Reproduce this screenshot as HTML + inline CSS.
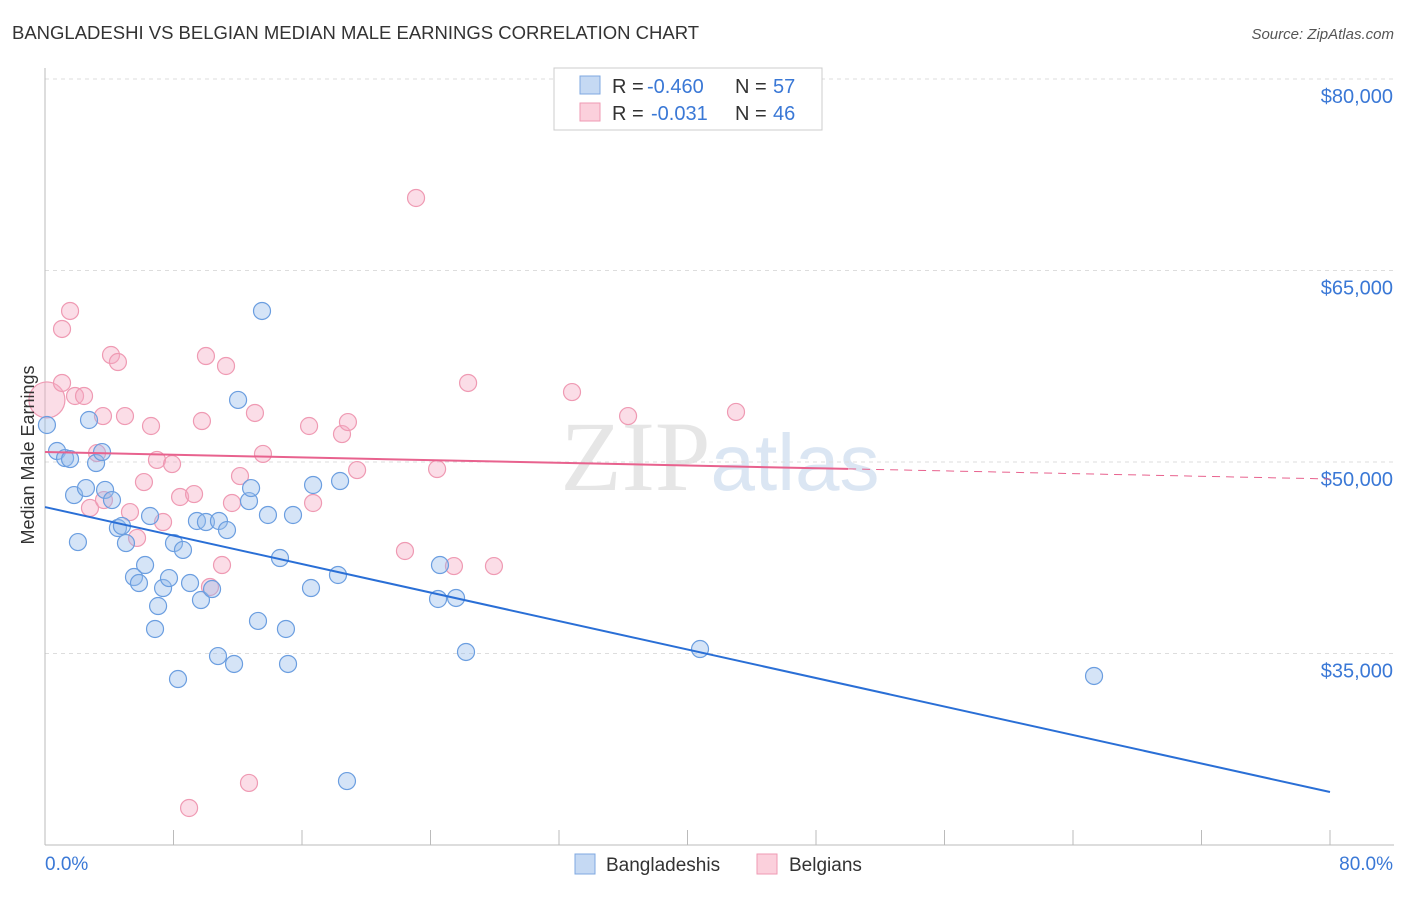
<!DOCTYPE html>
<html><head><meta charset="utf-8"><style>
body{margin:0;background:#fff;font-family:"Liberation Sans",sans-serif}
</style></head><body>
<svg width="1406" height="892" xmlns="http://www.w3.org/2000/svg" font-family="Liberation Sans, sans-serif">
<text x="12" y="39" font-size="18.5" fill="#333">BANGLADESHI VS BELGIAN MEDIAN MALE EARNINGS CORRELATION CHART</text>
<text x="1394" y="39" font-size="15" fill="#555" text-anchor="end" font-style="italic">Source: ZipAtlas.com</text>
<text x="720" y="490" font-size="100" fill="#e6e6e6" text-anchor="middle" font-family="Liberation Serif, serif">ZIP<tspan fill="#dbe6f3" font-family="Liberation Sans, sans-serif" font-size="80">atlas</tspan></text>
<g id="grid"></g><g id="axes"></g><g id="marks"></g>
<text transform="translate(34,455) rotate(-90)" font-size="18" fill="#333" text-anchor="middle">Median Male Earnings</text>
<rect x="554" y="68" width="268" height="62" fill="#fff" stroke="#ccc"/>
<rect x="580" y="76" width="20" height="18" fill="#c5d9f3" stroke="#7fa8e0"/>
<rect x="580" y="103" width="20" height="18" fill="#fbd0dc" stroke="#ef9ab3"/>
<g font-size="20">
<text x="612" y="93" fill="#333">R =</text><text x="647" y="93" fill="#3a78d6">-0.460</text>
<text x="735" y="93" fill="#333">N =</text><text x="773" y="93" fill="#3a78d6">57</text>
<text x="612" y="120" fill="#333">R =</text><text x="651" y="120" fill="#3a78d6">-0.031</text>
<text x="735" y="120" fill="#333">N =</text><text x="773" y="120" fill="#3a78d6">46</text>
</g>
<rect x="575" y="854" width="20" height="20" fill="#c5d9f3" stroke="#7fa8e0"/>
<text x="606" y="871" font-size="19" fill="#333">Bangladeshis</text>
<rect x="757" y="854" width="20" height="20" fill="#fbd0dc" stroke="#ef9ab3"/>
<text x="789" y="871" font-size="19" fill="#333">Belgians</text>
</svg>
<script>
const blueX=[0.12,0.75,1.25,1.56,2.74,3.18,3.55,1.81,2.55,2.05,3.74,4.17,4.54,4.79,5.04,5.54,5.85,6.23,6.54,6.85,7.04,7.35,7.72,8.03,8.28,8.59,9.03,9.46,9.71,10.02,10.40,10.83,10.77,11.33,11.77,12.02,12.70,12.83,13.26,13.51,13.88,14.63,15.00,15.13,15.44,16.56,16.69,18.24,18.37,18.80,24.47,24.59,25.59,26.21,40.78,65.31];
const blueY=[52900,50860,50310,50230,53290,49920,50780,47410,47960,43730,47810,47020,44830,44990,43650,40990,40520,41930,45770,36920,38720,40130,40910,43650,33000,43110,40520,45380,39190,45300,40050,45380,34800,44670,34180,54860,46940,47960,37550,61830,45850,42480,36920,34180,45850,40130,48200,41150,48510,25010,39270,41930,39350,35120,35350,33240];
const pinkX=[0.12,1.06,1.56,1.06,1.87,2.43,2.80,3.24,3.61,3.67,4.11,4.54,4.98,5.29,5.73,6.16,6.60,6.97,7.35,7.91,8.41,8.97,9.28,9.77,10.02,10.27,11.02,11.27,11.64,12.14,12.70,13.07,13.57,16.44,16.69,18.49,18.86,19.43,22.41,23.10,24.41,25.46,26.34,27.95,32.81,36.30,43.02];
const pinkY=[54860,60420,61830,56190,55170,55170,46400,50700,53600,47020,58380,57830,53600,46080,44050,48430,52820,50160,45300,49840,47260,22900,47490,53210,58300,40210,41930,57520,46790,48900,24860,53840,50630,52820,46790,52190,53130,49370,43030,70680,49450,41850,56190,41850,55480,53600,53920];
const yTicks=[35000,50000,65000,80000];
const yTickLabels=["$35,000","$50,000","$65,000","$80,000"];
const blueTrend=[46470,24150];
const pinkTrend=[50780,48670];
const NS="http://www.w3.org/2000/svg";
const sx=v=>45+v/80*1285, sy=v=>845-(v-20000)/60000*766;
function mk(t,a,p){const e=document.createElementNS(NS,t);for(const k in a)e.setAttribute(k,a[k]);document.getElementById(p).appendChild(e);return e;}
yTicks.forEach((v,i)=>{
 const l=mk('line',{x1:45,x2:1394,y1:sy(v),y2:sy(v),stroke:'#ddd','stroke-dasharray':'4,4'},'grid');
 
 
 const t=mk('text',{x:1393,y:sy(v)+24,'font-size':20,fill:'#3a78d6','text-anchor':'end'},'axes');
 t.textContent=yTickLabels[i];
 
 
});
const ax=mk('line',{x1:45,x2:45,y1:68,y2:845,stroke:'#bbb'},'axes');


const bx=mk('line',{x1:45,x2:1394,y1:845,y2:845,stroke:'#bbb'},'axes');


for(let i=0;i<=10;i++){
 const t=mk('line',{x1:sx(i*8),x2:sx(i*8),y1:830,y2:845,stroke:'#bbb'},'axes');
 
 
}
const xl=mk('text',{x:45,y:870,'font-size':19,fill:'#3a78d6'},'axes');xl.textContent='0.0%';


const xr=mk('text',{x:1393,y:870,'font-size':19,fill:'#3a78d6','text-anchor':'end'},'axes');xr.textContent='80.0%';


pinkX.forEach((x,i)=>{
 const c=mk('circle',{cx:sx(x),cy:sy(pinkY[i]),r:i===0?18:8.5,fill:'rgba(246,170,194,0.4)',stroke:'#ef9ab3','stroke-width':1.2},'marks');
 
 
});
blueX.forEach((x,i)=>{
 const c=mk('circle',{cx:sx(x),cy:sy(blueY[i]),r:8.5,fill:'rgba(150,188,236,0.4)',stroke:'#6b9ee0','stroke-width':1.2},'marks');
 
 
});
const bt=mk('line',{x1:sx(0),y1:sy(blueTrend[0]),x2:sx(80),y2:sy(blueTrend[1]),stroke:'#2a6fd6','stroke-width':2},'marks');


const pm=pinkTrend[0]+(pinkTrend[1]-pinkTrend[0])*50/80;
const pt=mk('line',{x1:sx(0),y1:sy(pinkTrend[0]),x2:sx(50),y2:sy(pm),stroke:'#e8628e','stroke-width':2},'marks');


const pd=mk('line',{x1:sx(50),y1:sy(pm),x2:sx(80),y2:sy(pinkTrend[1]),stroke:'#e8628e','stroke-width':1,'stroke-dasharray':'8,6'},'marks');


</script>
</body></html>
